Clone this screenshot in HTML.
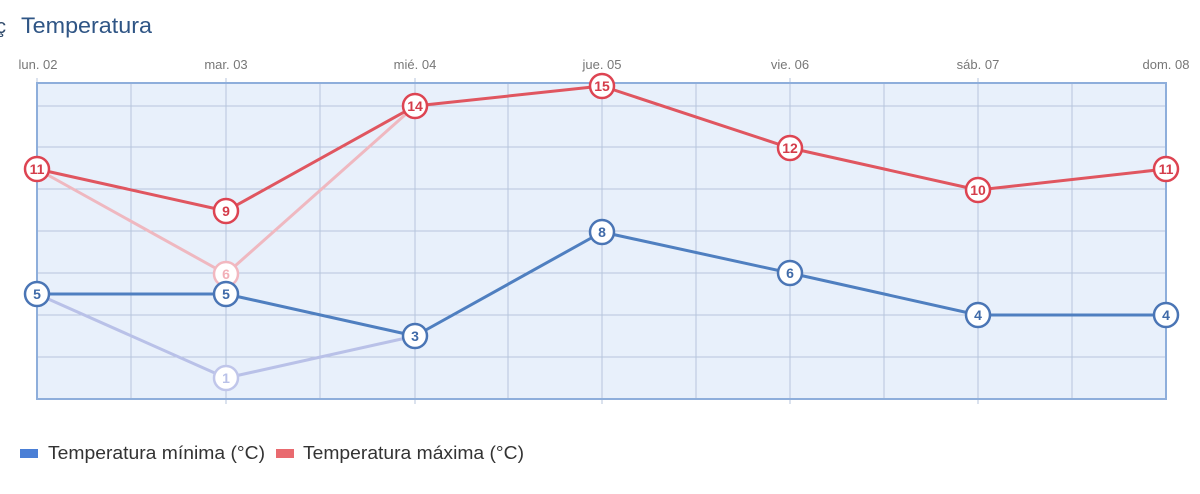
<!DOCTYPE html>
<html><head><meta charset="utf-8"><style>
body{margin:0;background:#fff;width:1200px;height:489px;overflow:hidden;font-family:"Liberation Sans",sans-serif}
</style></head><body>
<svg width="1200" height="489" xmlns="http://www.w3.org/2000/svg" font-family="Liberation Sans, sans-serif">
<text x="-4" y="33" font-size="20" fill="#2f4a6b">ç</text>
<text x="21" y="33" font-size="22" fill="#2f5585" textLength="131" lengthAdjust="spacingAndGlyphs">Temperatura</text>
<g font-size="13" fill="#777" text-anchor="middle">
<text x="38" y="69">lun. 02</text><text x="226" y="69">mar. 03</text><text x="415" y="69">mié. 04</text><text x="602" y="69">jue. 05</text><text x="790" y="69">vie. 06</text><text x="978" y="69">sáb. 07</text><text x="1166" y="69">dom. 08</text>
</g>
<rect x="37" y="83" width="1129" height="316" fill="#e8f0fb"/>
<g stroke="#b7c5dc" stroke-width="1">
<line x1="37" x2="1166" y1="106" y2="106"/><line x1="37" x2="1166" y1="147" y2="147"/><line x1="37" x2="1166" y1="189" y2="189"/><line x1="37" x2="1166" y1="231" y2="231"/><line x1="37" x2="1166" y1="273" y2="273"/><line x1="37" x2="1166" y1="315" y2="315"/><line x1="37" x2="1166" y1="357" y2="357"/>
<line x1="131" x2="131" y1="83" y2="399"/><line x1="226" x2="226" y1="78" y2="404"/><line x1="320" x2="320" y1="83" y2="399"/><line x1="415" x2="415" y1="78" y2="404"/><line x1="508" x2="508" y1="83" y2="399"/><line x1="602" x2="602" y1="78" y2="404"/><line x1="696" x2="696" y1="83" y2="399"/><line x1="790" x2="790" y1="78" y2="404"/><line x1="884" x2="884" y1="83" y2="399"/><line x1="978" x2="978" y1="78" y2="404"/><line x1="1072" x2="1072" y1="83" y2="399"/><line x1="37" x2="37" y1="78" y2="83"/>
</g>
<rect x="37" y="83" width="1129" height="316" fill="none" stroke="#8eaedb" stroke-width="2"/>
<g fill="none" stroke-width="3" stroke-linejoin="round">
<polyline points="37,169 226,274 415,106" stroke="#efb8c0"/>
<polyline points="37,294 226,378 415,336" stroke="#b9c1e8"/>
<polyline points="37,169 226,211 415,106 602,86 790,148 978,190 1166,169" stroke="#e05660"/>
<polyline points="37,294 226,294 415,336 602,232 790,273 978,315 1166,315" stroke="#4f7fc0"/>
</g>
<g font-size="14" font-weight="bold" text-anchor="middle" stroke-width="2.5">
<g fill="#fff" stroke="#f2b8c0"><circle cx="226" cy="274" r="12"/></g><text x="226" y="279" fill="#f2b0b8">6</text>
<g fill="#fff" stroke="#c0c6ea"><circle cx="226" cy="378" r="12"/></g><text x="226" y="383" fill="#b9c1e8">1</text>
<g fill="#fff" stroke="#dd4452">
<circle cx="37" cy="169" r="12"/><circle cx="226" cy="211" r="12"/><circle cx="415" cy="106" r="12"/><circle cx="602" cy="86" r="12"/><circle cx="790" cy="148" r="12"/><circle cx="978" cy="190" r="12"/><circle cx="1166" cy="169" r="12"/></g>
<g fill="#d43c4a">
<text x="37" y="174">11</text><text x="226" y="216">9</text><text x="415" y="111">14</text><text x="602" y="91">15</text><text x="790" y="153">12</text><text x="978" y="195">10</text><text x="1166" y="174">11</text></g>
<g fill="#fff" stroke="#4a75b5">
<circle cx="37" cy="294" r="12"/><circle cx="226" cy="294" r="12"/><circle cx="415" cy="336" r="12"/><circle cx="602" cy="232" r="12"/><circle cx="790" cy="273" r="12"/><circle cx="978" cy="315" r="12"/><circle cx="1166" cy="315" r="12"/></g>
<g fill="#3f6aa8">
<text x="37" y="299">5</text><text x="226" y="299">5</text><text x="415" y="341">3</text><text x="602" y="237">8</text><text x="790" y="278">6</text><text x="978" y="320">4</text><text x="1166" y="320">4</text></g>
</g>
<rect x="20" y="449" width="18" height="9" fill="#4a7fd6"/>
<text x="48" y="459" font-size="18" fill="#333" textLength="217" lengthAdjust="spacingAndGlyphs">Temperatura mínima (°C)</text>
<rect x="276" y="449" width="18" height="9" fill="#e96a6f"/>
<text x="303" y="459" font-size="18" fill="#333" textLength="221" lengthAdjust="spacingAndGlyphs">Temperatura máxima (°C)</text>
</svg>
</body></html>
